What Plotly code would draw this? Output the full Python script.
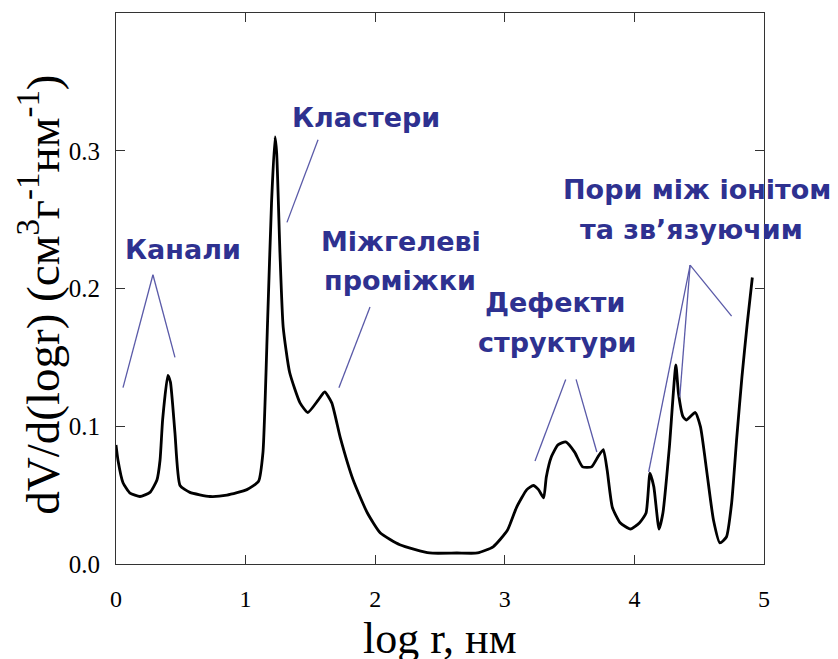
import plotly.graph_objects as go

# Curve (log r, dV/d(log r))
log_r = [0.00, 0.015, 0.054, 0.108, 0.185, 0.262, 0.316, 0.34, 0.36, 0.40, 0.42, 0.455, 0.494,
         0.57, 0.725, 0.856, 1.01, 1.10, 1.134, 1.17, 1.20, 1.227, 1.24, 1.265, 1.29, 1.34,
         1.42, 1.48, 1.56, 1.61, 1.665, 1.73, 1.83, 1.94, 2.04, 2.19, 2.42, 2.63, 2.79, 2.91,
         3.02, 3.09, 3.17, 3.22, 3.26, 3.30, 3.32, 3.36, 3.41, 3.47, 3.54, 3.60, 3.67, 3.72,
         3.76, 3.79, 3.83, 3.89, 3.97, 4.04, 4.09, 4.12, 4.15, 4.19, 4.22, 4.27, 4.32, 4.34,
         4.375, 4.40, 4.47, 4.51, 4.56, 4.61, 4.66, 4.71, 4.75, 4.79, 4.83, 4.87, 4.91]
dv = [0.0864, 0.0755, 0.059, 0.0515, 0.049, 0.052, 0.061, 0.0755, 0.105, 0.137, 0.132, 0.095, 0.057,
      0.052, 0.049, 0.050, 0.054, 0.060, 0.081, 0.177, 0.262, 0.310, 0.298, 0.226, 0.172, 0.139,
      0.117, 0.110, 0.119, 0.125, 0.117, 0.092, 0.061, 0.037, 0.0225, 0.014, 0.008, 0.008, 0.008, 0.0125,
      0.0245, 0.041, 0.054, 0.057, 0.054, 0.048, 0.063, 0.078, 0.0865, 0.0886, 0.081, 0.0705, 0.0705, 0.078,
      0.083, 0.068, 0.041, 0.030, 0.0254, 0.030, 0.037, 0.066, 0.056, 0.0254, 0.037, 0.085, 0.1445, 0.124,
      0.107, 0.1045, 0.110, 0.0995, 0.066, 0.032, 0.0153, 0.0196, 0.044, 0.092, 0.136, 0.174, 0.208]

x_ticks = [0, 1, 2, 3, 4, 5]
y_ticks = [0.0, 0.1, 0.2, 0.3]

# Annotation labels: (text, x, y)
labels = [
    ("Канали", 0.52, 0.228),
    ("Кластери", 1.93, 0.324),
    ("Міжгелеві", 2.20, 0.234),
    ("проміжки", 2.19, 0.206),
    ("Дефекти", 3.39, 0.1895),
    ("структури", 3.40, 0.1605),
    ("Пори між іонітом", 4.48, 0.2716),
    ("та зв’язуючим", 4.44, 0.2426),
]
# Pointer lines: (x0, y0, x1, y1)
pointers = [
    (0.285, 0.210, 0.054, 0.128),
    (0.285, 0.210, 0.455, 0.150),
    (1.559, 0.308, 1.319, 0.248),
    (1.96, 0.1866, 1.72, 0.128),
    (3.47, 0.134, 3.233, 0.0748),
    (3.55, 0.134, 3.71, 0.0813),
    (4.43, 0.217, 4.75, 0.180),
    (4.43, 0.217, 4.11, 0.0668),
    (4.43, 0.217, 4.35, 0.121),
]

TEXT_BLUE = "#2e3190"
LINE_BLUE = "#5a5aa8"

fig = go.Figure()
fig.add_trace(go.Scatter(x=log_r, y=dv, mode="lines",
                         line=dict(color="black", width=2.8, shape="spline", smoothing=0.5),
                         showlegend=False, hoverinfo="skip"))

for x0, y0, x1, y1 in pointers:
    fig.add_shape(type="line", x0=x0, y0=y0, x1=x1, y1=y1, xref="x", yref="y",
                  line=dict(color=LINE_BLUE, width=1.3))

for txt, xx, yy in labels:
    fig.add_annotation(text=txt, x=xx, y=yy, xref="x", yref="y", showarrow=False,
                       xanchor="center", yanchor="middle",
                       font=dict(family="DejaVu Sans", size=27, color=TEXT_BLUE, weight="bold"))

serif = "Liberation Serif"
fig.add_annotation(text="log r, нм", x=0.5, y=-0.136, xref="paper", yref="paper",
                   showarrow=False, xanchor="center", yanchor="middle",
                   font=dict(family=serif, size=44, color="black"))
fig.add_annotation(text="dV/d(logr) (см<sup>3</sup>г<sup>-1</sup>нм<sup>-1</sup>)",
                   x=-0.118, y=0.488, xref="paper", yref="paper", textangle=-90,
                   showarrow=False, xanchor="center", yanchor="middle",
                   font=dict(family=serif, size=47, color="black"))

axis_common = dict(showgrid=False, zeroline=False, showline=True, linecolor="#333333",
                   linewidth=1.2, mirror="ticks", ticks="inside", ticklen=9,
                   tickcolor="#333333", tickwidth=1.2)

fig.update_layout(
    width=838, height=659,
    margin=dict(l=116, r=74, t=13, b=95),
    paper_bgcolor="white", plot_bgcolor="white",
    xaxis=dict(range=[0, 5], tickvals=x_ticks, ticktext=[str(v) for v in x_ticks],
               ticklabelstandoff=13, tickfont=dict(family=serif, size=24, color="black"),
               **axis_common),
    yaxis=dict(range=[0, 0.4], tickvals=y_ticks, ticktext=[f"{v:.1f}" for v in y_ticks],
               ticklabelstandoff=10, tickfont=dict(family=serif, size=25, color="black"),
               **axis_common),
)

fig.write_html("out.html", config={"displayModeBar": False},
               post_script="document.body.style.margin='0';document.body.style.overflow='hidden';")
